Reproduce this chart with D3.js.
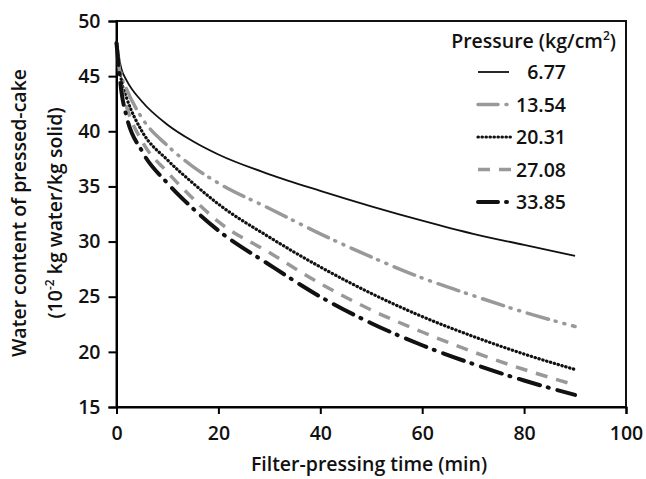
<!DOCTYPE html>
<html>
<head>
<meta charset="utf-8">
<script src="https://cdn.jsdelivr.net/npm/d3@7"></script>
<style>
  body { margin: 0; background: #fff; }
  text { font-family: "Open Sans", sans-serif; font-weight: 600; fill: #111; }
</style>
</head>
<body>
<div id="chart"></div>
<script>
// filter-pressing time (min)
const times = [0, 1, 2, 5, 10, 15, 20, 30, 40, 50, 60, 70, 80, 90];
// pressure labels (kg/cm2)
const pressures = ["6.77", "13.54", "20.31", "27.08", "33.85"];
// water content (10^-2 kg water/kg solid)
const p677  = [48, 45.6, 44.6, 42.7, 40.6, 39.1, 37.9, 36.1, 34.6, 33.2, 31.9, 30.7, 29.7, 28.7];
const p1354 = [48, 45.0, 43.8, 41.2, 38.7, 36.8, 35.3, 33.0, 30.7, 28.6, 26.7, 25.1, 23.6, 22.3];
const p2031 = [48, 44.5, 43.0, 40.0, 37.4, 35.3, 33.4, 30.4, 27.7, 25.3, 23.2, 21.4, 19.8, 18.4];
const p2708 = [48, 44.0, 42.2, 39.1, 36.3, 33.9, 31.8, 29.0, 26.2, 23.8, 21.8, 20.0, 18.4, 17.0];
const p3385 = [48, 43.5, 41.3, 38.2, 35.3, 33.0, 31.0, 27.9, 25.0, 22.6, 20.6, 18.9, 17.4, 16.1];
const xTicks = [0, 20, 40, 60, 80, 100];
const yTicks = [15, 20, 25, 30, 35, 40, 45, 50];

const series = [p677, p1354, p2031, p2708, p3385];

const width = 646, height = 479;
const margin = {top: 21, right: 20, bottom: 72, left: 116.5};
const fs = 19.5;

const styles = [
  {stroke: "#111", width: 1.8, dash: null, cap: "butt"},
  {stroke: "#999", width: 3.5, dash: "22,7,1,8,1,8", cap: "round"},
  {stroke: "#111", width: 3.2, dash: "0.4,3.6", cap: "round"},
  {stroke: "#999", width: 3.5, dash: "12,9", cap: "butt"},
  {stroke: "#111", width: 4, dash: "22,8,1,9", cap: "round"}
];

const svg = d3.select("#chart").append("svg")
  .attr("width", width)
  .attr("height", height);

const x = d3.scaleLinear().domain([0, 100]).range([margin.left, width - margin.right]);
const y = d3.scaleLinear().domain([15, 50]).range([height - margin.bottom, margin.top]);

// frame
svg.append("rect")
  .attr("x", x(0)).attr("y", y(50))
  .attr("width", x(100) - x(0)).attr("height", y(15) - y(50))
  .attr("fill", "none").attr("stroke", "#111").attr("stroke-width", 2);

svg.append("g")
  .attr("transform", `translate(0,${y(15)})`)
  .call(d3.axisBottom(x).tickValues(xTicks).tickSize(7).tickPadding(12))
  .call(g => g.select(".domain").attr("stroke-width", 2))
  .call(g => g.selectAll(".tick line").attr("stroke-width", 2))
  .call(g => g.selectAll(".tick text").attr("font-size", fs).style("font-family", "Open Sans").attr("fill", "#111"));

svg.append("g")
  .attr("transform", `translate(${x(0)},0)`)
  .call(d3.axisLeft(y).tickValues(yTicks).tickSize(8).tickPadding(8))
  .call(g => g.select(".domain").attr("stroke-width", 2))
  .call(g => g.selectAll(".tick line").attr("stroke-width", 2))
  .call(g => g.selectAll(".tick text").attr("font-size", fs).style("font-family", "Open Sans").attr("fill", "#111"));

const line = d3.line()
  .x((d, i) => x(times[i]))
  .y(d => y(d))
  .curve(d3.curveMonotoneX);

svg.append("g")
  .selectAll("path")
  .data(series)
  .join("path")
    .attr("d", d => line(d))
    .attr("fill", "none")
    .attr("stroke", (d, i) => styles[i].stroke)
    .attr("stroke-width", (d, i) => styles[i].width)
    .attr("stroke-dasharray", (d, i) => styles[i].dash)
    .attr("stroke-linecap", (d, i) => styles[i].cap);

// legend
svg.append("text")
  .attr("x", 616).attr("y", 48)
  .attr("text-anchor", "end")
  .attr("font-size", fs)
  .html('Pressure (kg/cm<tspan dy="-8" font-size="12">2</tspan><tspan dy="8">)</tspan>');

const legend = svg.append("g")
  .selectAll("g")
  .data(pressures)
  .join("g")
    .attr("transform", (d, i) => `translate(0,${72 + i * 32.5})`);

legend.append("line")
  .attr("x1", 478).attr("x2", (d, i) => i == 0 ? 509 : 511)
  .attr("stroke", (d, i) => styles[i].stroke)
  .attr("stroke-width", (d, i) => styles[i].width)
  .attr("stroke-dasharray", (d, i) => i == 1 || i == 4 ? "20,8,1,20" : styles[i].dash)
  .attr("stroke-linecap", (d, i) => styles[i].cap);

legend.append("text")
  .attr("x", 566).attr("y", 7)
  .attr("text-anchor", "end")
  .attr("font-size", fs)
  .text(d => d);

// axis titles
svg.append("text")
  .attr("x", 369).attr("y", 471)
  .attr("text-anchor", "middle")
  .attr("font-size", fs)
  .text("Filter-pressing time (min)");

svg.append("text")
  .attr("transform", "translate(26,213) rotate(-90)")
  .attr("text-anchor", "middle")
  .attr("font-size", fs)
  .text("Water content of pressed-cake");

svg.append("text")
  .attr("transform", "translate(62,213) rotate(-90)")
  .attr("text-anchor", "middle")
  .attr("font-size", fs)
  .html('(10<tspan dy="-8" font-size="12">-2</tspan><tspan dy="8"> kg water/kg solid)</tspan>');
</script>
</body>
</html>
